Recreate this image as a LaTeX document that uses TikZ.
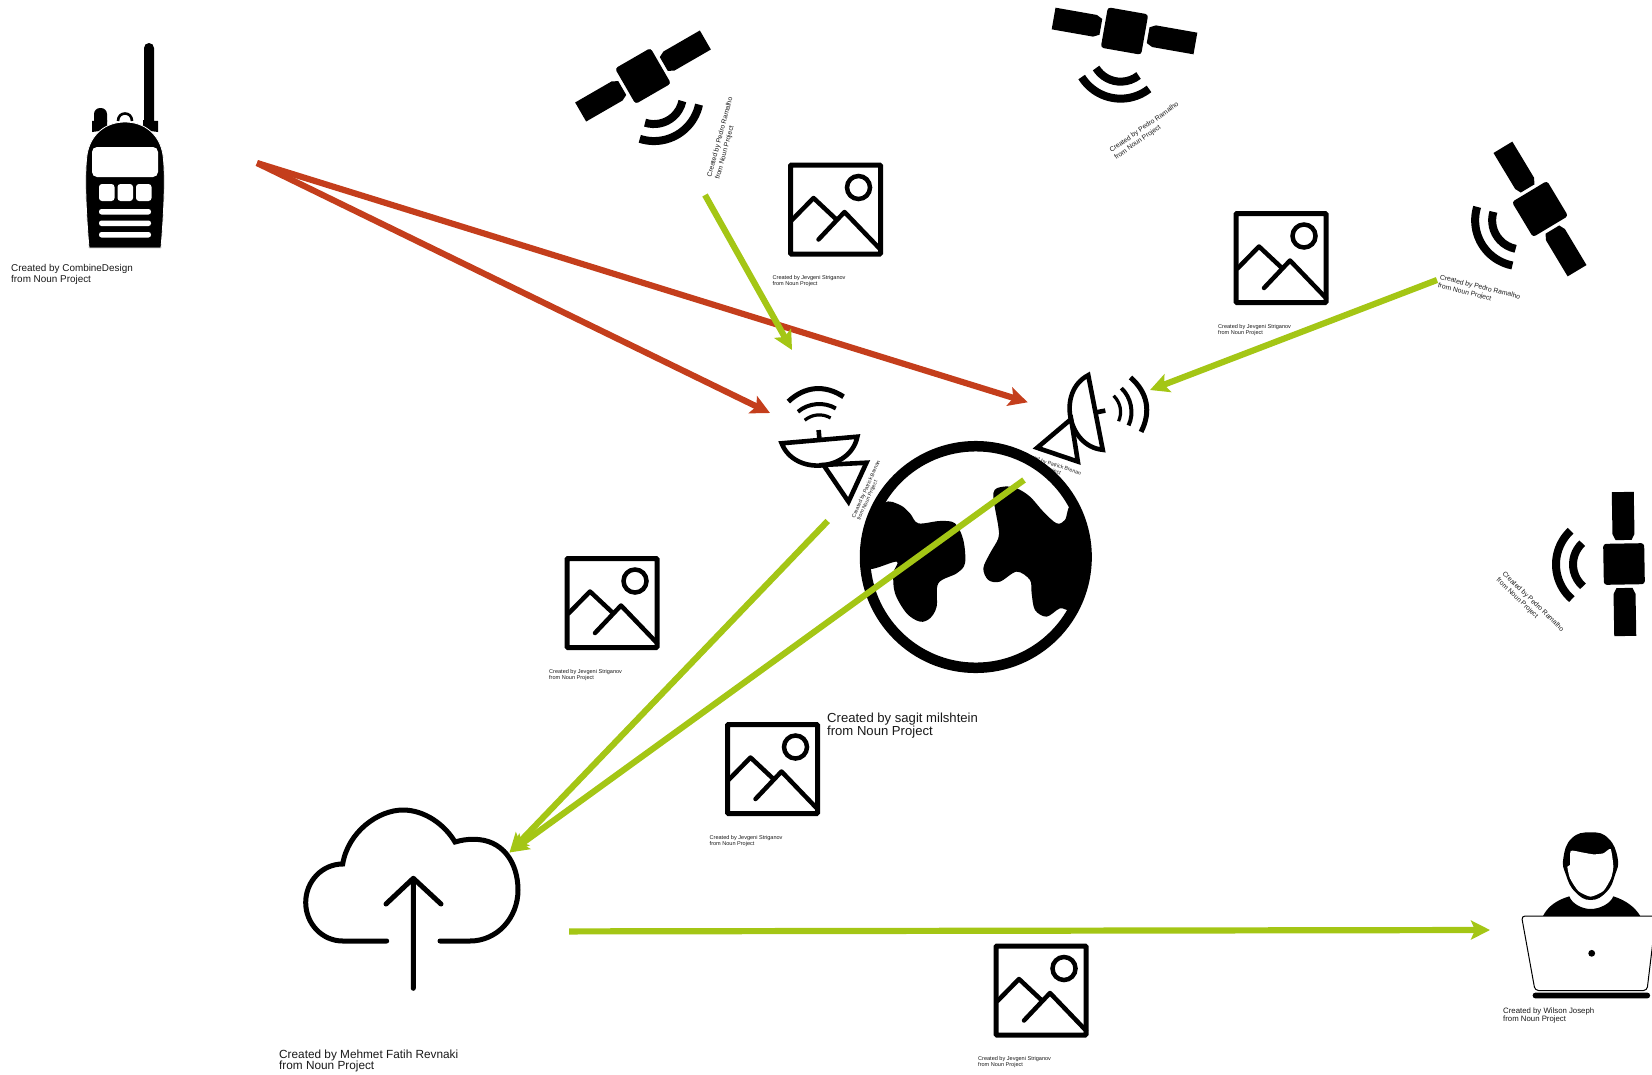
\documentclass[tikz,border=0pt]{standalone}
\usepackage{fontspec}
\setmainfont{Liberation Sans}
\usetikzlibrary{arrows.meta}
\definecolor{linkred}{HTML}{C43E1C}
\definecolor{linkgreen}{HTML}{A4C615}
\tikzset{
  credit/.style={align=left,inner sep=0pt,anchor=west,text=black!90},
  redlink/.style={draw=linkred,line width=6.2pt,-{Stealth[length=19pt,width=19pt,inset=4pt]}},
  greenlink/.style={draw=linkgreen,line width=6.2pt,-{Stealth[length=19pt,width=19pt,inset=4pt]}},
  imgicon/.pic={
    \draw[line width=5pt,rounded corners=1pt] (-45,-44.5) rectangle (45,44.5);
    \draw[line width=4.5pt] (23,22) circle (11.5);
    \draw[line width=4.5pt,line join=round] (-44,-11)--(-22,11.5)--(2,-11);
    \draw[line width=4.5pt,line join=round,line cap=round] (-17,-30)--(9,-2.5)--(45,-40);
    \node[credit,font=\fontsize{5.55}{5.9}\selectfont] (-cr) at (-63,-72) {Created by Jevgeni Striganov\\from Noun Project};
  },
  sat/.pic={
    \fill[rounded corners=3pt] (-20.5,-20.5) rectangle (20.5,20.5);
    \fill (-11,72)--(11,72)--(11,30)--(8,24)--(-8,24)--(-11,30)--cycle;
    \fill (-11,-72)--(11,-72)--(11,-30)--(8,-24)--(-8,-24)--(-11,-30)--cycle;
    \draw[line width=8pt] (-22,0) ++(132:29) arc[start angle=132,end angle=228,radius=29];
    \draw[line width=8pt] (-22,0) ++(132:46) arc[start angle=132,end angle=228,radius=46];
    \node[credit,rotate=-45,transform shape,font=\fontsize{6.8}{8.4}\selectfont] (-cr) at (-124,-10) {Created by Pedro Ramalho\\from Noun Project};
  },
  dish/.pic={
    \draw[line width=4.6pt,miter limit=8] (-38,0) .. controls (-28,-34) and (28,-34) .. (38,0)--cycle;
    \draw[line width=4.6pt] (0,0)--(0,10);
    \draw[line width=4.6pt,miter limit=8] (1.8,-25.2)--(44.8,-26.7)--(23.5,-64)--cycle;
    \draw[line width=3.2pt] (-13,21) .. controls (-5,26.5) and (5,26.5) .. (13,21);
    \draw[line width=4pt] (-19,30) .. controls (-8,38) and (8,38) .. (19,30);
    \draw[line width=5pt] (-27.7,41) .. controls (-10,55) and (10,55) .. (27.7,41);
    \node[credit,rotate=61,transform shape,font=\fontsize{5.3}{5.7}\selectfont] (-cr) at (29.7,-82) {Created by Patrick Brenan\\from Noun Project};
  },
}
\begin{document}
\begin{tikzpicture}[x=1pt,y=1pt]
\useasboundingbox (0,0) rectangle (1652,-1074);
% radio
\fill (144,-122)--(144,-48) arc[start angle=180,end angle=0,radius=5]--(154,-122)--cycle;
\fill[rounded corners=6pt] (94,-108) rectangle (107,-128);
\fill (92,-132)--(92,-121)--(107,-120)--(107,-130)--cycle;
\fill (158,-132)--(158,-121)--(143,-120)--(143,-130)--cycle;
\draw[line width=2.6pt] (118,-121) .. controls (118,-111) and (132,-111) .. (132,-121);
\fill[draw=white,line width=.8pt] (89,-248) .. controls (85,-200) and (85,-170) .. (87,-155)
  .. controls (90,-135) and (105,-122) .. (125,-122) .. controls (145,-122) and (160,-135) .. (163,-155)
  .. controls (165,-170) and (165,-200) .. (161,-248)--cycle;
\fill[white,rounded corners=5pt] (92,-147) rectangle (158,-177);
\foreach \bx in {99,117.5,136}
  \fill[white,rounded corners=3pt] (\bx,-184) rectangle ++(15.5,-17);
\foreach \by in {-209,-220.5,-232}
  \fill[white,rounded corners=2.5pt] (99,\by) rectangle (151,\by-5.5);
\node[credit,font=\fontsize{9.9}{10.4}\selectfont] (radiocr) at (11,-274.5) {Created by CombineDesign\\from Noun Project};
% satellites and placeholders
\pic (satA) [rotate=120] at (643,-76) {sat};
\pic (satB) [rotate=80] at (1124.5,-31) {sat};
\pic (satC) [rotate=31] at (1540,-209) {sat};
\pic (satD) [rotate=1] at (1624,-564) {sat};
\pic (imgA) at (835.5,-209.5) {imgicon};
\pic (imgB) at (1281,-258) {imgicon};
\pic (imgC) at (612,-603) {imgicon};
\pic (imgD) at (772.5,-769) {imgicon};
\pic (imgE) at (1041,-990.5) {imgicon};
% dishes
\pic (dishA) [rotate=5] at (819.5,-440) {dish};
\pic (dishB) [rotate=-79] at (1095.5,-412.5) {dish};
% earth
\begin{scope}[shift={(760,-360)},x=.3333pt,y=-.3333pt]
\fill plot[smooth cycle,tension=.55] coordinates {(372,428) (420,435) (450,460) (475,490) (540,483) (585,490) (610,540) (615,610) (590,640) (535,670) (530,740) (510,775) (480,785) (440,760) (405,700) (400,640) (410,605) (330,627) (305,590) (315,500)};
\fill plot[smooth cycle,tension=.55] coordinates {(700,400) (730,380) (770,385) (810,410) (850,455) (890,490) (915,480) (932,440) (975,520) (985,600) (970,690) (932,748) (900,745) (860,770) (825,750) (815,700) (810,660) (770,635) (720,665) (685,660) (670,625) (690,580) (715,535) (715,500)};
\end{scope}
\draw[line width=10.5pt] (975.8,-557) circle (110.8);
\node[credit,font=\fontsize{13.1}{12.6}\selectfont] (earthcr) at (827,-725.5) {Created by sagit milshtein\\from Noun Project};
% cloud
\draw[line width=5pt,line cap=round,line join=miter] (386.7,-941)--(342.7,-941) arc[start angle=270,end angle=90,x radius=37,y radius=38.5]
  .. controls (348,-832) and (378,-810) .. (403,-810) .. controls (425,-810) and (445,-825) .. (455,-842)
  .. controls (462,-840) and (467,-839.3) .. (473.3,-839.3) .. controls (503,-839) and (518,-863) .. (518,-890)
  .. controls (518,-918) and (497,-941) .. (470,-941)--(440,-941);
\draw[line width=5pt,line cap=round,line join=round] (413.3,-988.3)--(413.3,-878.3) (386,-904)--(413.3,-878.3)--(441,-904);
\node[credit,font=\fontsize{11.8}{11.6}\selectfont] (cloudcr) at (279,-1061) {Created by Mehmet Fatih Revnaki\\from Noun Project};
% person with laptop
\begin{scope}[shift={(1540,-825)},x=.3333pt,y=-.3333pt]
\fill (8,275) .. controls (22,245) and (50,225) .. (88,214) .. controls (95,235) and (125,252) .. (152,252)
  .. controls (180,252) and (212,235) .. (220,214) .. controls (255,225) and (285,245) .. (302,275)--cycle;
\fill plot[smooth cycle,tension=.8] coordinates {(152,22) (205,40) (233,100) (225,150) (200,200) (152,225) (105,200) (78,150) (70,100) (95,40)};
\fill[white] plot[smooth cycle,tension=.35] coordinates {(92,78) (125,82) (160,88) (190,85) (212,72) (220,125) (213,160) (190,198) (152,215) (115,198) (90,160) (82,125) (90,120)};
\end{scope}
\draw[fill=white,line width=1pt,rounded corners=3.5pt] (1521.5,-916)--(1656,-916)--(1647,-990.5)--(1535,-990.5)--cycle;
\fill (1591.7,-953.3) circle (3.4);
\fill[rounded corners=2.5pt] (1532.7,-992.7) rectangle (1650,-998.3);
\node[credit,font=\fontsize{7.8}{8}\selectfont] (personcr) at (1503,-1015) {Created by Wilson Joseph\\from Noun Project};
% connector ends
\coordinate (R) at (257,-163);
\coordinate (DAin) at (770,-413);
\coordinate (DBin) at (1027.7,-402.3);
\coordinate (SA) at (705,-195);
\coordinate (DAsat) at (792,-350);
\coordinate (SC) at (1437,-280);
\coordinate (DBsat) at (1150,-390);
\coordinate (DAout) at (827.7,-521);
\coordinate (DBout) at (1024,-480);
\coordinate (CL) at (509.5,-852.5);
\coordinate (CLout) at (569,-931.4);
\coordinate (P) at (1490,-930);
\draw[redlink] (R)--(DAin);
\draw[redlink] (R)--(DBin);
\draw[greenlink] (SA)--(DAsat);
\draw[greenlink] (SC)--(DBsat);
\draw[greenlink] (DAout)--(CL);
\draw[greenlink] (DBout)--(CL);
\draw[greenlink] (CLout)--(P);
\end{tikzpicture}
\end{document}
